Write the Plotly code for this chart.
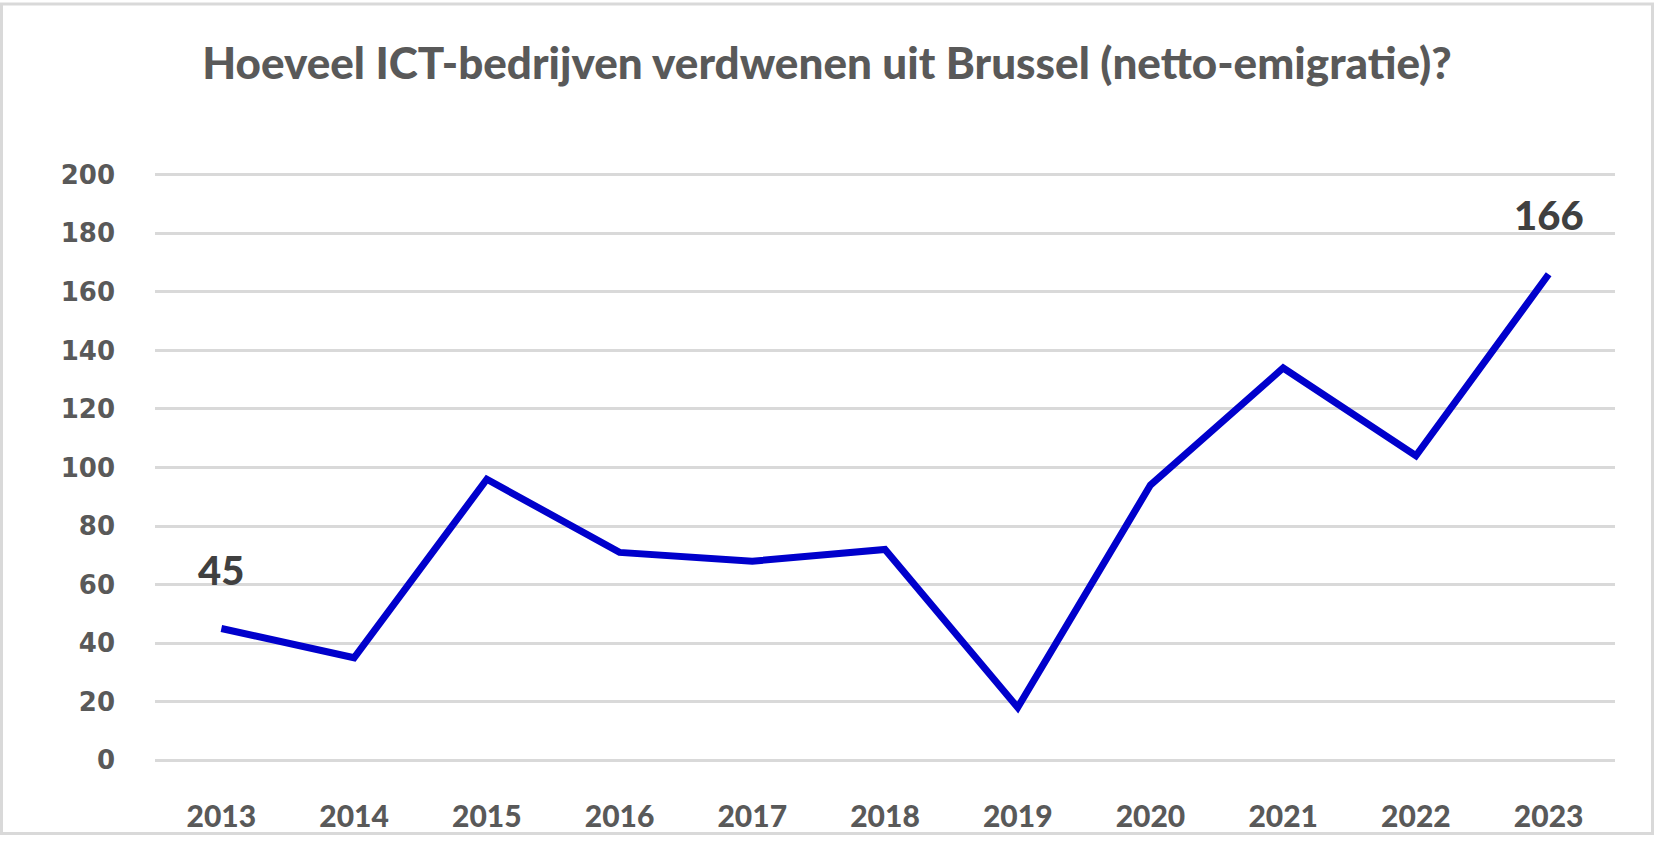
import plotly.graph_objects as go

years = ["2013", "2014", "2015", "2016", "2017", "2018", "2019", "2020", "2021", "2022", "2023"]
values = [45, 35, 96, 71, 68, 72, 18, 94, 134, 104, 166]
labelled = ["2013", "2023"]
y_ticks = [0, 20, 40, 60, 80, 100, 120, 140, 160, 180, 200]
title_text = "Hoeveel ICT-bedrijven verdwenen uit Brussel (netto-emigratie)?"

W, H = 1654, 845
ML, MR, MT, MB = 155, 39, 173, 74
PW, PH = W - ML - MR, H - MT - MB

fig = go.Figure()
fig.add_trace(go.Scatter(
    x=years, y=values, mode="lines",
    line=dict(color="#0000CC", width=7),
    hoverinfo="skip", showlegend=False,
))

for yr in labelled:
    i = years.index(yr)
    v = values[i]
    fig.add_annotation(
        x=i, y=v, xref="x", yref="y", text=str(v), showarrow=False, yshift=59,
        font=dict(family="Lato", size=40, color="#404040", weight=900),
    )

# outer frame of the chart (pixel edges converted to paper coords)
fig.add_shape(
    type="rect", xref="paper", yref="paper",
    x0=(1.5 - ML) / PW, x1=(W - 1.5 - ML) / PW,
    y0=(MT + PH - (H - 1.5)) / PH, y1=(MT + PH - 1.5) / PH,
    line=dict(color="#D9D9D9", width=3), layer="below",
)

fig.update_layout(
    width=W, height=H,
    margin=dict(l=ML, r=MR, t=MT, b=MB),
    paper_bgcolor="white", plot_bgcolor="white",
    title=dict(
        text=title_text, x=0.5, xref="container", xanchor="center",
        y=1 - 64.0 / H, yref="container", yanchor="middle",
        font=dict(family="Lato", size=44, color="#595959", weight=900),
    ),
    xaxis=dict(
        type="category", range=[-0.5, 10.5],
        showgrid=False, showline=False, zeroline=False, ticks="",
        tickfont=dict(family="Lato", size=30, color="#595959", weight=900),
        ticklabelstandoff=34,
    ),
    yaxis=dict(
        range=[-0.6, 200.6], tickvals=y_ticks,
        showgrid=True, gridcolor="#D9D9D9", gridwidth=3,
        zeroline=False, showline=False, ticks="",
        tickfont=dict(family="DejaVu Sans", size=26, color="#595959", weight="bold"),
        ticklabelstandoff=39,
    ),
)

fig.write_html("out.html")
